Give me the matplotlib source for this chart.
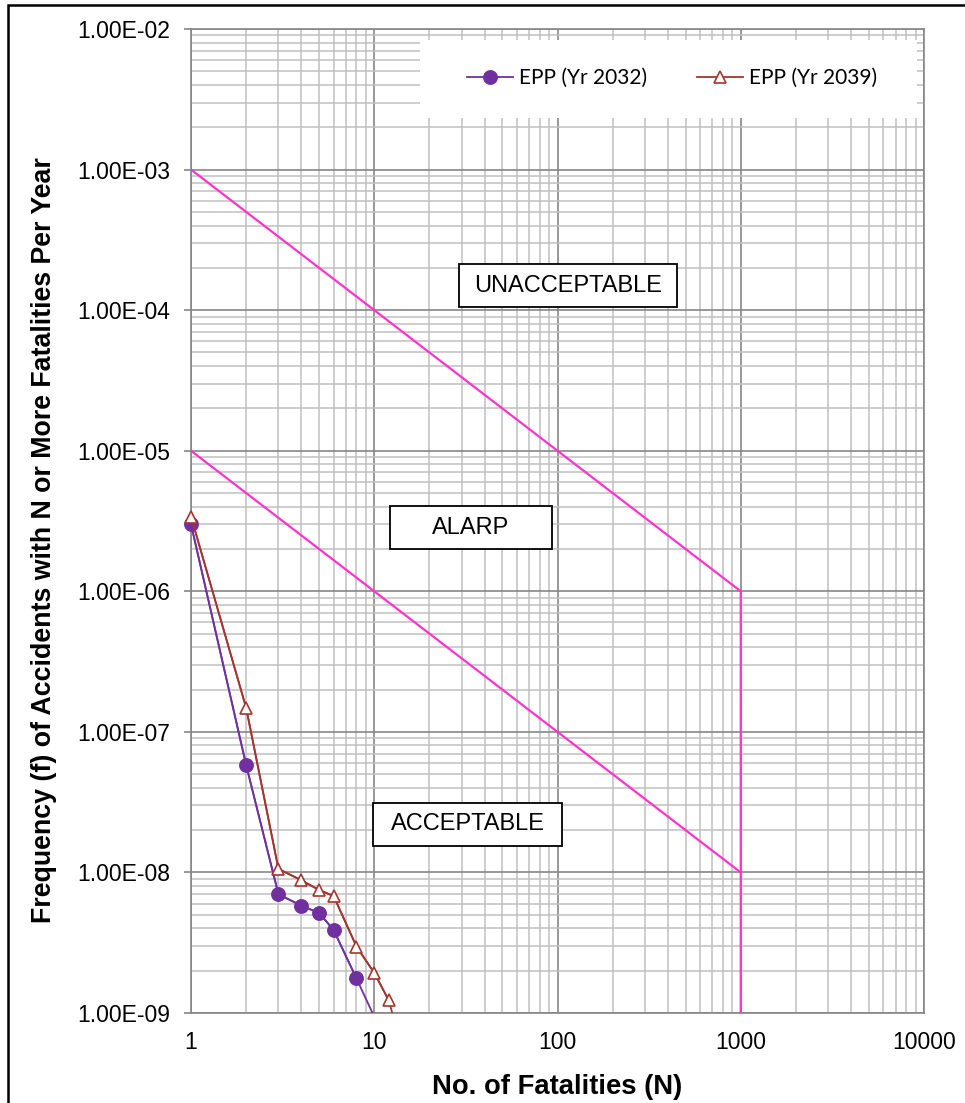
import numpy as np
import matplotlib.pyplot as plt
from matplotlib.patches import Rectangle
from matplotlib.ticker import FuncFormatter, LogLocator, NullFormatter

# Data
n_2032 = [1, 2, 3, 4, 5, 6, 8, 10]
f_2032 = [3.0e-6, 5.8e-8, 7.0e-9, 5.8e-9, 5.15e-9, 3.9e-9, 1.76e-9, 9.4e-10]

n_2039 = [1, 2, 3, 4, 5, 6, 8, 10, 12, 15]
f_2039 = [3.4e-6, 1.48e-7, 1.06e-8, 8.8e-9, 7.5e-9, 6.8e-9, 2.97e-9, 1.93e-9, 1.23e-9, 4.3e-10]

# Criterion lines (upper and lower limit)
n_crit = [1, 1000, 1000]
f_upper = [1e-3, 1e-6, 1e-9]
f_lower = [1e-5, 1e-8]
n_lower = [1, 1000]

x_ticks = [1, 10, 100, 1000, 10000]
y_ticks = [1e-9, 1e-8, 1e-7, 1e-6, 1e-5, 1e-4, 1e-3, 1e-2]
zone_labels = ["UNACCEPTABLE", "ALARP", "ACCEPTABLE"]

PURPLE = "#7030A0"
RED = "#A5352F"
MAGENTA = "#FF33CC"
MAJOR = "#868686"
MINOR = "#C0C0C0"

plt.rcParams["font.family"] = ["Liberation Sans", "DejaVu Sans"]

fig = plt.figure(figsize=(9.65, 11.03), dpi=100)
W, H = 965, 1103
# plot area in pixels: x 191..924, y 29..1013
ax = fig.add_axes([191 / W, 1 - 1013 / H, (924 - 191) / W, (1013 - 29) / H])

ax.set_xscale("log")
ax.set_yscale("log")
ax.set_xlim(1, 10000)
ax.set_ylim(1e-9, 1e-2)

# grid
ax.xaxis.set_minor_locator(LogLocator(base=10, subs=np.arange(2, 10)))
ax.yaxis.set_minor_locator(LogLocator(base=10, subs=np.arange(2, 10)))
ax.xaxis.set_minor_formatter(NullFormatter())
ax.yaxis.set_minor_formatter(NullFormatter())
ax.grid(True, which="minor", color=MINOR, linewidth=1.1, zorder=0)
ax.grid(True, which="major", color=MAJOR, linewidth=1.2, zorder=0)
ax.set_axisbelow(True)
for s in ax.spines.values():
    s.set_color(MAJOR)
    s.set_linewidth(1.2)

ax.set_xticks(x_ticks)
ax.set_xticklabels([str(t) for t in x_ticks])
ax.set_yticks(y_ticks)
ax.yaxis.set_major_formatter(FuncFormatter(lambda v, p: f"{v:.2E}"))
ax.tick_params(axis="x", which="both", length=0, pad=13, labelsize=16.5)
ax.tick_params(axis="y", which="major", length=5, width=1.2, color=MAJOR, pad=10, labelsize=16.5)
ax.tick_params(axis="y", which="minor", length=0)

# criterion lines
ax.plot(n_crit, f_upper, color=MAGENTA, linewidth=1.6, zorder=3)
ax.plot(n_lower, f_lower, color=MAGENTA, linewidth=1.6, zorder=3)


def series(n, f, color, marker, face, ms, label, z):
    n = np.array(n)
    f = np.array(f)
    inside = f >= 1e-9
    # line over all points, clipped at the plot area
    ax.plot(n, f, color=color, linewidth=1.3, zorder=z)
    # markers of points inside the range drawn whole, not clipped
    ax.plot(n[inside], f[inside], color=color, linewidth=1.3, marker=marker, markersize=ms,
            markerfacecolor=face, markeredgecolor=color, markeredgewidth=1.2,
            label=label, zorder=z, clip_on=False)


series(n_2032, f_2032, PURPLE, "o", PURPLE, 9.5, "EPP (Yr 2032)", 4)
series(n_2039, f_2039, RED, "^", "white", 9, "EPP (Yr 2039)", 5)


def px_box(x0, y0, x1, y1, text=None, edge="black"):
    # box given in figure pixels, drawn in axes coordinates
    ax0 = (x0 - 191) / 733
    ax1 = (x1 - 191) / 733
    ay0 = (1013 - y1) / 984
    ay1 = (1013 - y0) / 984
    ax.add_patch(Rectangle((ax0, ay0), ax1 - ax0, ay1 - ay0, transform=ax.transAxes,
                           facecolor="white", edgecolor=edge, linewidth=1.3, zorder=6))
    if text:
        ax.text((ax0 + ax1) / 2, (ay0 + ay1) / 2, text, transform=ax.transAxes,
                ha="center", va="center", fontsize=17, zorder=7)


px_box(459, 264, 677, 307, zone_labels[0])
px_box(390, 506, 552, 549, zone_labels[1])
px_box(373, 803, 562, 846, zone_labels[2])

# legend on a white patch
px_box(420, 40, 917, 118, edge="none")
ax.legend(loc="center", bbox_to_anchor=((672 - 191) / 733, (1013 - 78) / 984),
          ncol=2, frameon=False, prop={"family": "Lato", "size": 15},
          handlelength=2.2, columnspacing=2.4, handletextpad=0.3).set_zorder(8)

ax.set_xlabel("No. of Fatalities (N)", fontsize=19.7, fontweight="bold", labelpad=14)
ax.set_ylabel("Frequency (f) of Accidents with N or More Fatalities Per Year",
              fontsize=19.3, fontweight="bold")
ax.yaxis.set_label_coords(-0.183, (1013 - 540) / 984)

# chart border
fig.patches.append(Rectangle((8 / W, -0.02), 1.0, 1.02 - 5 / H, transform=fig.transFigure,
                             fill=False, edgecolor="black", linewidth=1.8))

fig.savefig("out.png", dpi=100)
